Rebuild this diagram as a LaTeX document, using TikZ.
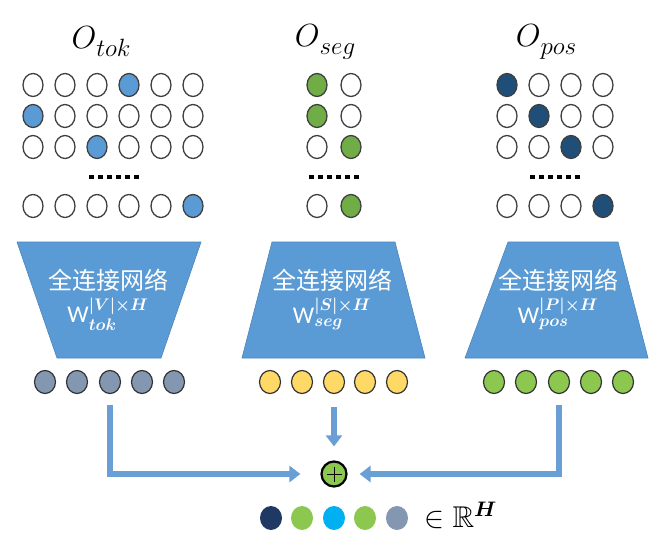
\documentclass[tikz,border=0pt]{standalone}
\usepackage{fix-cm}
\usepackage{amsmath,amssymb}
\usepackage{fontspec}
\newfontfamily\cjkfont{Noto Sans CJK SC}
\newfontfamily\wfont{Carlito}
\usetikzlibrary{shapes.geometric,arrows.meta}
\definecolor{tokc}{HTML}{5B9BD5}
\definecolor{segc}{HTML}{70AD47}
\definecolor{posc}{HTML}{1F4E79}
\definecolor{trapc}{HTML}{5B9BD5}
\definecolor{trapline}{HTML}{4A85BD}
\definecolor{vgray}{HTML}{8497B0}
\definecolor{vyel}{HTML}{FFD966}
\definecolor{vgreen}{HTML}{8CC850}
\definecolor{arrowc}{HTML}{6A9FD5}
\definecolor{fnavy}{HTML}{1F3864}
\definecolor{fcyan}{HTML}{00B0F0}
\definecolor{cellline}{HTML}{404040}
\tikzset{
  cell/.style={ellipse, draw=cellline, line width=1.3pt, minimum width=20pt, minimum height=23pt, inner sep=0pt},
  vec/.style={ellipse, draw=black!80, line width=1.2pt, minimum width=21pt, minimum height=23pt, inner sep=0pt},
  fvec/.style={ellipse, minimum width=22pt, minimum height=24pt, inner sep=0pt},
  trap/.style={fill=trapc, draw=trapline, line width=0.6pt},
  cjklabel/.style={text=white, font=\cjkfont\fontsize{24}{24}\selectfont, inner sep=0pt},
  wlabel/.style={text=white, font=\fontsize{24}{24}\selectfont, inner sep=0pt},
  title/.style={inner sep=0pt},
  arr/.style={draw=arrowc, line width=5.5pt, -{Triangle[length=11pt,width=16pt]}},
  dotsq/.style={fill=black}
}
\newcommand{\ttl}[1]{{\fontsize{32}{32}\selectfont$O$}\raisebox{-8pt}{\fontsize{25}{25}\selectfont$#1$}}
\begin{document}
\begin{tikzpicture}[x=1pt,y=-1pt]
\useasboundingbox (0,0) rectangle (663,540);
\fill[white] (0,0) rectangle (663,540);

% titles
\node[title] (ttok) at (101,42) {\ttl{tok}};
\node[title] (tseg) at (325,42) {\ttl{seg}};
\node[title] (tpos) at (546,42) {\ttl{pos}};

% token grid
\foreach \r/\y/\h in {1/85/4,2/116/1,3/147/3,4/206/6}{
  \foreach \c in {1,...,6}{
    \ifnum\c=\h \def\fc{tokc}\else\def\fc{white}\fi
    \node[cell, fill=\fc] (tok-\r-\c) at ({33+32*(\c-1)},\y) {};
  }
}
% segment grid
\foreach \r/\y/\h in {1/85/1,2/116/1,3/147/2,4/206/2}{
  \foreach \c in {1,2}{
    \ifnum\c=\h \def\fc{segc}\else\def\fc{white}\fi
    \node[cell, fill=\fc] (seg-\r-\c) at ({317+34*(\c-1)},\y) {};
  }
}
% position grid
\foreach \r/\y/\h in {1/85/1,2/116/2,3/147/3,4/206/4}{
  \foreach \c in {1,...,4}{
    \ifnum\c=\h \def\fc{posc}\else\def\fc{white}\fi
    \node[cell, fill=\fc] (pos-\r-\c) at ({507+32*(\c-1)},\y) {};
  }
}
% dots
\foreach \cx in {114,334,555}{
  \foreach \k in {0,...,5}{
    \fill[dotsq] ({\cx-22.5+9*\k-2.2},174.8) rectangle ({\cx-22.5+9*\k+2.2},179.2);
  }
}

% trapezoids
\path[trap] (17,242) -- (201,242) -- (161,358) -- (57,358) -- cycle;
\path[trap] (272,242) -- (395,242) -- (425,358) -- (242,358) -- cycle;
\path[trap] (508,242) -- (618,242) -- (648,358) -- (465,358) -- cycle;

\node[cjklabel] (ltok) at (108,280) {全连接网络};
\node[cjklabel] (lseg) at (332,280) {全连接网络};
\node[cjklabel] (lpos) at (558,280) {全连接网络};
\node[wlabel] (wtok) at (108,314) {{\wfont W}$^{\boldsymbol{|V|\times H}}_{\boldsymbol{tok}}$};
\node[wlabel] (wseg) at (332,314) {{\wfont W}$^{\boldsymbol{|S|\times H}}_{\boldsymbol{seg}}$};
\node[wlabel] (wpos) at (558,314) {{\wfont W}$^{\boldsymbol{|P|\times H}}_{\boldsymbol{pos}}$};

% embedding vectors
\foreach \c/\x in {1/45,2/77,3/110,4/142,5/174}{
  \node[vec, fill=vgray] (tb\c) at (\x,382) {};
}
\foreach \c/\x in {1/270,2/302,3/334,4/365,5/397}{
  \node[vec, fill=vyel] (sb\c) at (\x,382) {};
}
\foreach \c/\x in {1/494,2/526,3/559,4/591,5/623}{
  \node[vec, fill=vgreen] (pb\c) at (\x,382) {};
}

% plus
\node[circle, draw=black, line width=2.2pt, fill=vgreen, minimum size=25pt, inner sep=0pt] (plus) at (334,474) {};
\draw[line width=0.9pt] ([yshift=7.5pt]plus.center) -- ([yshift=-7.5pt]plus.center);
\draw[line width=0.9pt] ([xshift=-7.5pt]plus.center) -- ([xshift=7.5pt]plus.center);

% arrows
\draw[arr, shorten >=20pt] ([yshift=-11pt]tb3.south) |- (plus);
\draw[arr, shorten >=12pt] ([yshift=-11pt]pb3.south) |- (plus);
\draw[arr, shorten >=14pt] ([yshift=-13pt]sb3.south) -- (plus);

% result vector
\node[fvec, fill=fnavy] (f1) at (271,518) {};
\node[fvec, fill=vgreen] (f2) at (302,518) {};
\node[fvec, fill=fcyan] (f3) at (334,518) {};
\node[fvec, fill=vgreen] (f4) at (365,518) {};
\node[fvec, fill=vgray] (f5) at (397,518) {};
\node[anchor=west, inner sep=0pt, font=\fontsize{30}{30}\selectfont] (rh) at (424,515) {$\in\mathbb{R}^{\boldsymbol{H}}$};
\end{tikzpicture}
\end{document}
